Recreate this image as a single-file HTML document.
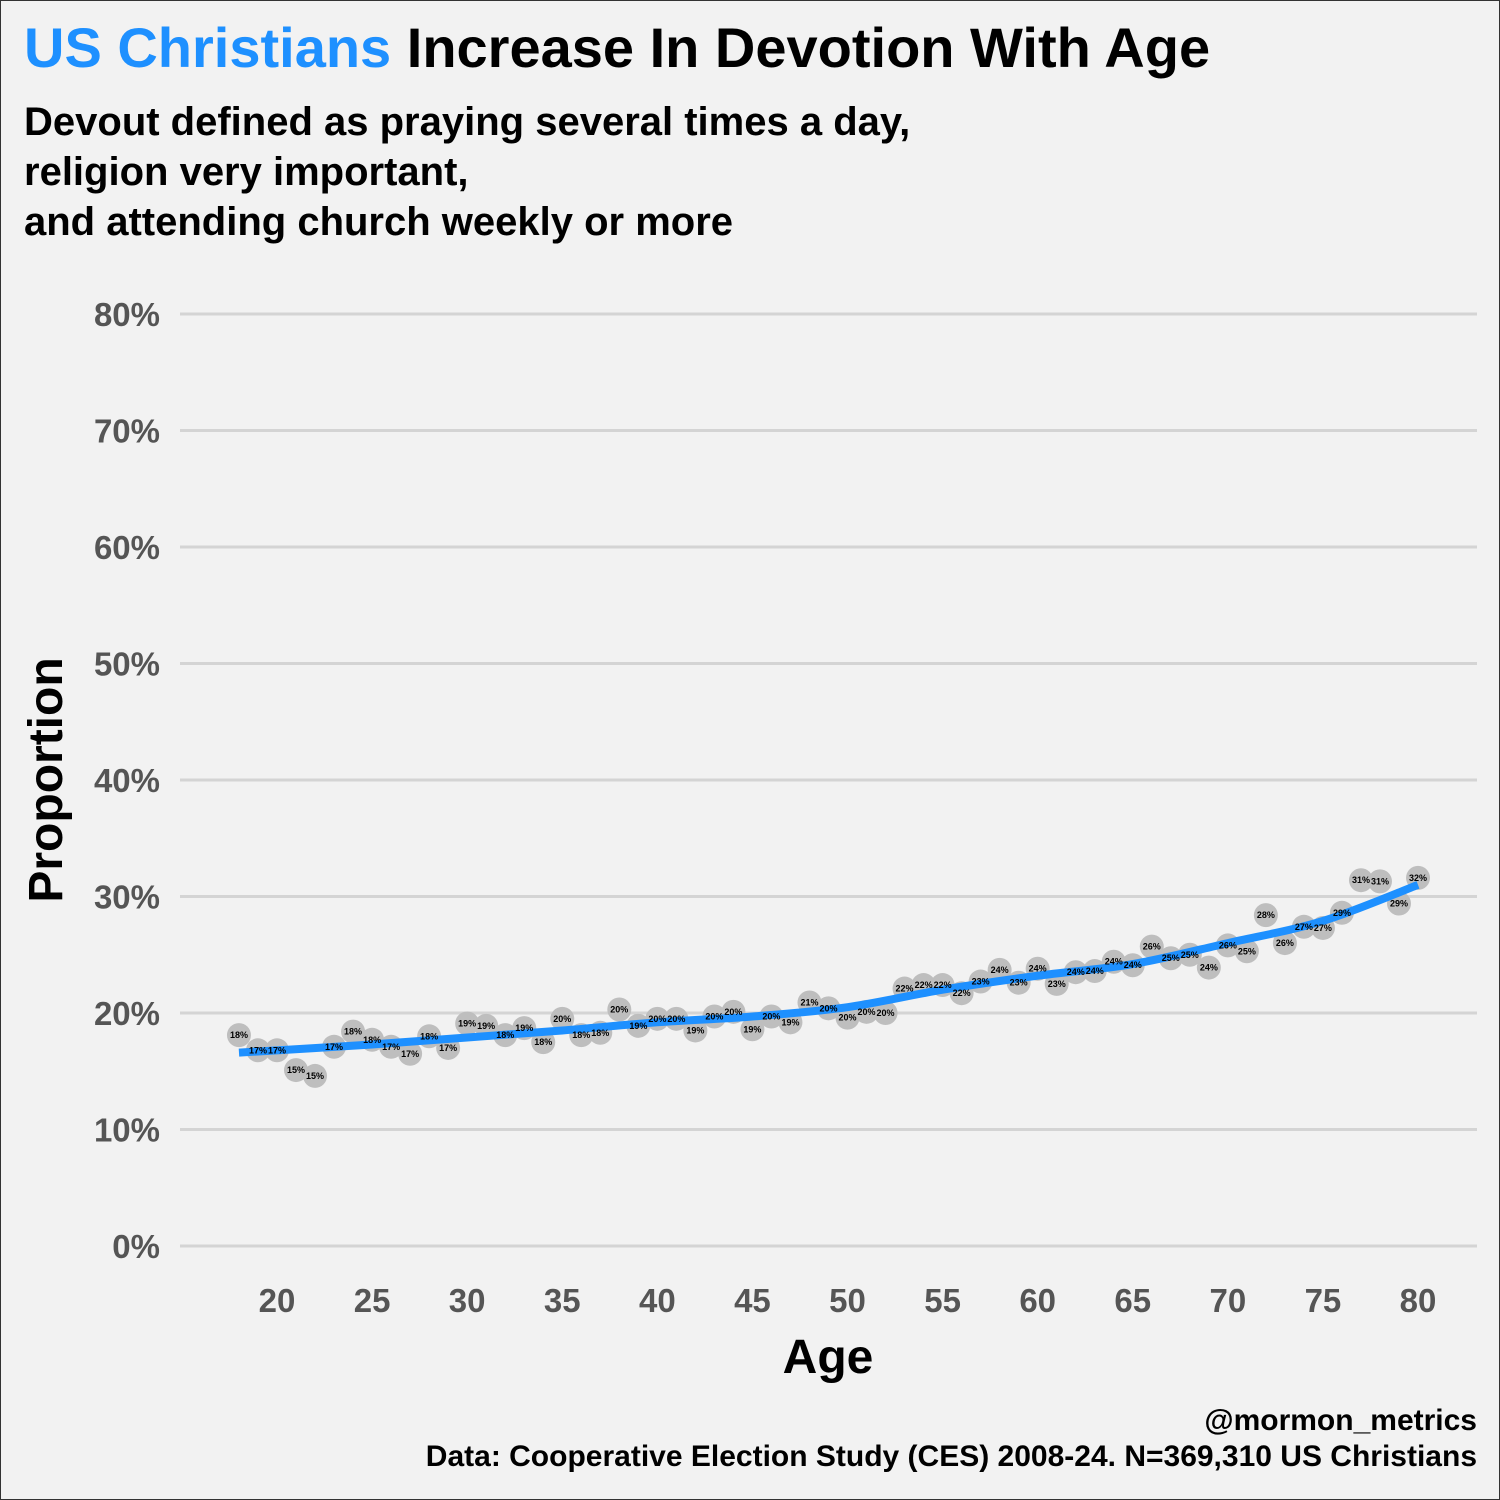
<!DOCTYPE html>
<html><head><meta charset="utf-8"><style>
body{margin:0;background:#f2f2f2;}
#wrap{position:relative;width:1498px;height:1498px;border:1px solid #333;background:#f2f2f2;font-family:"Liberation Sans",sans-serif;overflow:hidden}
.t{position:absolute;white-space:nowrap}
</style></head><body>
<div id="wrap">
<div class="t" style="left:23px;top:14px;font-size:56px;font-weight:bold;color:#000"><span style="color:#1e90ff">US Christians</span> Increase In Devotion With Age</div>
<div class="t" style="left:23px;top:96px;font-size:40px;font-weight:bold;line-height:50px;color:#000">Devout defined as praying several times a day,<br>religion very important,<br>and attending church weekly or more</div>
<svg id="chart" width="1500" height="1500" style="position:absolute;left:-1px;top:-1px"></svg>
<div class="t" style="right:22px;top:1403px;font-size:30px;font-weight:bold;color:#000">@mormon_metrics</div>
<div class="t" style="right:22px;top:1439px;font-size:30px;font-weight:bold;color:#000">Data: Cooperative Election Study (CES) 2008-24. N=369,310 US Christians</div>
</div>
<script>
const ages=[18,19,20,21,22,23,24,25,26,27,28,29,30,31,32,33,34,35,36,37,38,39,40,41,42,43,44,45,46,47,48,49,50,51,52,53,54,55,56,57,58,59,60,61,62,63,64,65,66,67,68,69,70,71,72,73,74,75,76,77,78,79,80];
const values=[18.1,16.8,16.8,15.1,14.6,17.1,18.4,17.7,17.1,16.5,18.0,17.0,19.1,18.9,18.1,18.7,17.5,19.5,18.1,18.3,20.3,18.9,19.5,19.5,18.5,19.7,20.1,18.6,19.7,19.2,20.9,20.4,19.6,20.1,20.0,22.1,22.4,22.4,21.7,22.7,23.7,22.6,23.8,22.5,23.5,23.6,24.4,24.1,25.7,24.7,25.0,23.9,25.8,25.3,28.4,26.0,27.4,27.3,28.6,31.4,31.3,29.4,31.6];
const fitAges=[18,25,30,35,40,45,50,55,60,65,70,75,80];
const fitValues=[16.6,17.3,17.9,18.5,19.2,19.7,20.5,22.0,23.2,24.2,26.0,27.9,31.0];
const yTicks=[0,10,20,30,40,50,60,70,80];
const xTicks=[20,25,30,35,40,45,50,55,60,65,70,75,80];
const NS='http://www.w3.org/2000/svg';
const svg=document.getElementById('chart');
const X=a=>277+(a-20)*19.017;
const Y=v=>1246-v*11.65;
function mk(tag,attrs,parent){const e=document.createElementNS(NS,tag);for(const k in attrs)e.setAttribute(k,attrs[k]);(parent||svg).appendChild(e);return e;}
yTicks.forEach(t=>{
  const l=mk('line',{x1:180,x2:1477,y1:Y(t),y2:Y(t),stroke:'#d4d4d4','stroke-width':3});
  
  
  const tx=mk('text',{x:160,y:Y(t)+12,'text-anchor':'end','font-size':33,'font-weight':'bold',fill:'#555','font-family':'Liberation Sans'});
  tx.textContent=t+'%';
  
  
});
xTicks.forEach(t=>{
  const tx=mk('text',{x:X(t),y:1312,'text-anchor':'middle','font-size':33,'font-weight':'bold',fill:'#555','font-family':'Liberation Sans'});
  tx.textContent=t;
  
  
});
const xt=mk('text',{x:828,y:1373,'text-anchor':'middle','font-size':48,'font-weight':'bold',fill:'#000','font-family':'Liberation Sans'});
xt.textContent='Age';


const yt=mk('text',{x:0,y:0,'text-anchor':'middle','font-size':48,'font-weight':'bold',fill:'#000','font-family':'Liberation Sans',transform:'translate(62,780) rotate(-90)'});
yt.textContent='Proportion';


const pts=fitAges.map((a,i)=>[X(a),Y(fitValues[i])]);
ages.forEach((a,i)=>{
  const c=mk('circle',{cx:X(a),cy:Y(values[i]),r:12,fill:'#bebebe'});
  
  
});
let d='M'+pts[0][0]+','+pts[0][1];
for(let i=0;i<pts.length-1;i++){
  const p0=pts[i-1]||pts[i],p1=pts[i],p2=pts[i+1],p3=pts[i+2]||p2;
  d+=' C'+(p1[0]+(p2[0]-p0[0])/6)+','+(p1[1]+(p2[1]-p0[1])/6)+' '+(p2[0]-(p3[0]-p1[0])/6)+','+(p2[1]-(p3[1]-p1[1])/6)+' '+p2[0]+','+p2[1];
}
const line=mk('path',{d:d,fill:'none',stroke:'#1e90ff','stroke-width':8});


ages.forEach((a,i)=>{
  const tx=mk('text',{x:X(a),y:Y(values[i])+3,'text-anchor':'middle','font-size':9,'font-weight':'bold',fill:'#000','font-family':'Liberation Sans'});
  tx.textContent=Math.round(values[i])+'%';
  
  
});
</script>
</body></html>
